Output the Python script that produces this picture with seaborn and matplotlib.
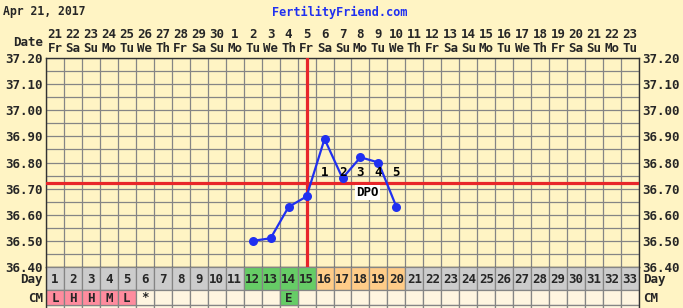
import matplotlib
matplotlib.use("Agg")
import matplotlib.pyplot as plt
import seaborn as sns
import numpy as np
import pandas as pd

# ---------------- data ----------------
cycle_days = list(range(1, 34))
dates = [21, 22, 23, 24, 25, 26, 27, 28, 29, 30] + list(range(1, 24))
weekdays = ["Fr", "Sa", "Su", "Mo", "Tu", "We", "Th"] * 5
weekdays = weekdays[:33]
temp_days = [12, 13, 14, 15, 16, 17, 18, 19, 20]
temps = [36.50, 36.51, 36.63, 36.67, 36.89, 36.74, 36.82, 36.80, 36.63]
coverline = 36.72
ovulation_day = 15
dpo_days = [16, 17, 18, 19, 20]
dpo_labels = ["1", "2", "3", "4", "5"]
fertile_days = [12, 13, 14, 15]
luteal_days = [16, 17, 18, 19, 20]
cm_days = [1, 2, 3, 4, 5, 6, 14]
cm_codes = ["L", "H", "H", "M", "L", "*", "E"]
cm_kind = ["period", "period", "period", "period", "period", "none", "egg"]
y_labels = [36.40, 36.50, 36.60, 36.70, 36.80, 36.90, 37.00, 37.10, 37.20]
title_text = "Apr 21, 2017"
site_text = "FertilityFriend.com"

# ---------------- style ----------------
sns.set_style("white")
plt.rcParams["font.family"] = ["DejaVu Sans Mono", "DejaVu Sans"]
plt.rcParams["font.weight"] = "bold"

BG = "#FFF4C4"
GRID = "#858585"
RED = "#E8262A"
BLUE = "#2030F0"
FS = 9

W, H = 683, 308
fig = plt.figure(figsize=(W / 100, H / 100), dpi=100)
fig.patch.set_facecolor(BG)

L, R, T, B = 46, 639, 58, 267
ax = fig.add_axes([L / W, (H - B) / H, (R - L) / W, (B - T) / H])
ax.set_facecolor(BG)
ax.set_xlim(0.5, 33.5)
ax.set_ylim(36.40, 37.20)

# grid
ax.set_xticks(np.arange(0.5, 34, 1))
ax.set_yticks(y_labels)
ax.set_yticks(np.arange(36.45, 37.20, 0.1), minor=True)
ax.grid(True, which="both", color=GRID, linewidth=0.9)
ax.set_axisbelow(True)
ax.tick_params(axis="x", length=0, labelbottom=False)
ax.tick_params(axis="y", which="both", length=0, labelleft=True, labelright=True, pad=2,
               labelsize=FS)
ax.set_yticklabels([f"{v:.2f}" for v in y_labels])
for lab in ax.get_yticklabels():
    lab.set_fontweight("bold")
for s in ax.spines.values():
    s.set_color("#333333")
    s.set_linewidth(1.0)

# coverline and ovulation line
ax.axhline(coverline, color=RED, linewidth=2.3, zorder=3)
ax.axvline(ovulation_day, color=RED, linewidth=2.3, zorder=3)

# temperatures
df = pd.DataFrame({"day": temp_days, "temp": temps})
sns.lineplot(data=df, x="day", y="temp", ax=ax, color=BLUE, linewidth=1.6,
             marker="o", markersize=6.5, markeredgewidth=0, zorder=5)
ax.set_xlabel("")
ax.set_ylabel("")

# DPO labels
for d, lab in zip(dpo_days, dpo_labels):
    ax.text(d, coverline + 0.04, lab, ha="center", va="center", fontsize=FS,
            fontweight="bold", color="black", zorder=6)
ax.text(18.4, coverline - 0.035, "DPO", ha="center", va="center", fontsize=FS,
        fontweight="bold", color="black", zorder=6,
        bbox=dict(facecolor="white", edgecolor="none", pad=0.8))

# top date labels
xt = ax.get_xaxis_transform()
for d, dt, wd in zip(cycle_days, dates, weekdays):
    ax.text(d, (B - 35) / (B - T), str(dt), transform=xt, ha="center", va="center",
            fontsize=FS, fontweight="bold", clip_on=False)
    ax.text(d, (B - 48) / (B - T), wd, transform=xt, ha="center", va="center",
            fontsize=FS, fontweight="bold", clip_on=False)

fig.text(43 / W, 1 - 42 / H, "Date", ha="right", va="center", fontsize=FS, fontweight="bold")
fig.text(3 / W, 1 - 12 / H, title_text, ha="left", va="center", fontsize=8.3, fontweight="bold")
fig.text(340 / W, 1 - 12 / H, site_text, ha="center", va="center", fontsize=8.6,
         fontweight="bold", color=BLUE)

# ---------------- bottom rows ----------------
axb = fig.add_axes([L / W, 0, (R - L) / W, (H - B) / H])
axb.set_xlim(0.5, 33.5)
axb.set_ylim(41, 0)
axb.axis("off")
day_colors = []
for d in cycle_days:
    if d in fertile_days:
        day_colors.append("#66CC66")
    elif d in luteal_days:
        day_colors.append("#FFCC88")
    else:
        day_colors.append("#CCCCCC")
axb.bar(cycle_days, [23] * 33, bottom=0, width=1, color=day_colors, edgecolor=GRID,
        linewidth=0.9)
axb.bar(cycle_days, [15] * 33, bottom=23, width=1, color="#FFF5E0", edgecolor=GRID,
        linewidth=0.9)
axb.bar(cycle_days, [10] * 33, bottom=38, width=1, color="#FFF5E0", edgecolor=GRID,
        linewidth=0.9)
for d in cycle_days:
    axb.text(d, 12.5, str(d), ha="center", va="center", fontsize=FS, fontweight="bold")
kind_col = {"period": "#FF8C9E", "egg": "#66CC66", "none": "#FFF5E0"}
axb.bar(cm_days, [15] * len(cm_days), bottom=23, width=1,
        color=[kind_col[k] for k in cm_kind], edgecolor=GRID, linewidth=0.9)
for d, c in zip(cm_days, cm_codes):
    axb.text(d, 31, c, ha="center", va="center", fontsize=FS, fontweight="bold")
axb.plot([0.5, 0.5], [0, 41], color="#333333", linewidth=1.0, clip_on=False)
axb.plot([33.5, 33.5], [0, 41], color="#333333", linewidth=1.0, clip_on=False)

for xx, ha in [(43 / W, "right"), (643 / W, "left")]:
    fig.text(xx, 1 - 280 / H, "Day", ha=ha, va="center", fontsize=FS, fontweight="bold")
    fig.text(xx, 1 - 298 / H, "CM", ha=ha, va="center", fontsize=FS, fontweight="bold")

fig.savefig("out.png", dpi=100, facecolor=BG)
